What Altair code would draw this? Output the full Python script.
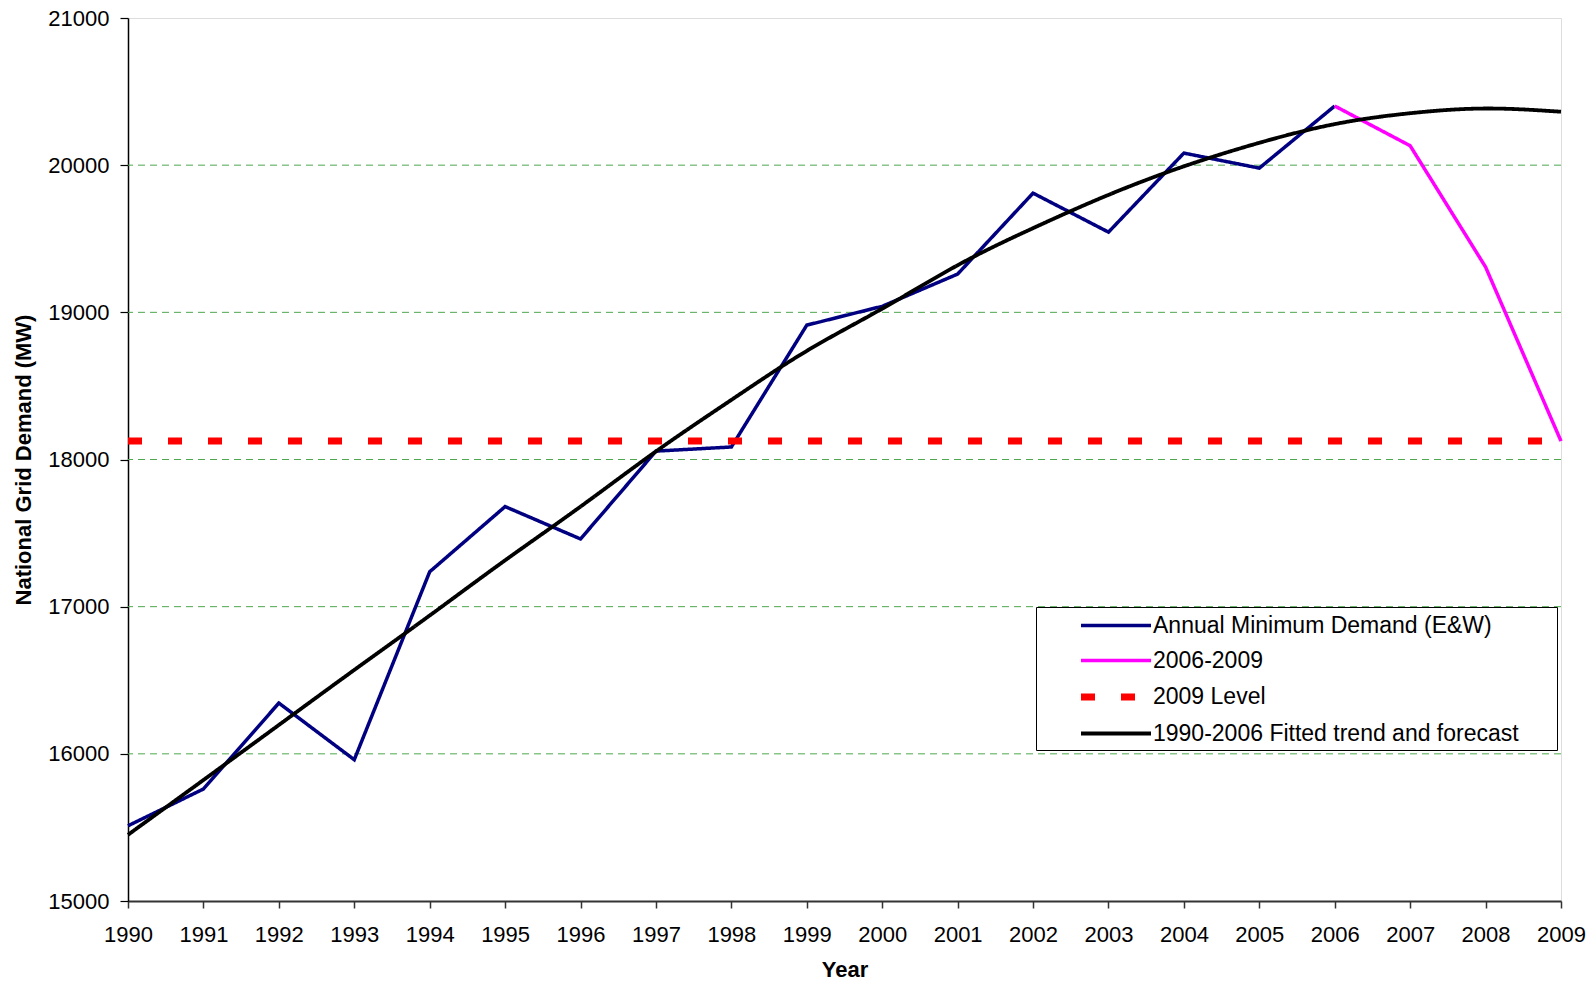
import altair as alt
import pandas as pd

# ---- data ----
S1 = "Annual Minimum Demand (E&W)"
S2 = "2006-2009"
S3 = "2009 Level"
S4 = "1990-2006 Fitted trend and forecast"

years_actual = list(range(1990, 2007))
demand_actual = [15511, 15761, 16345, 15960, 17237, 17680, 17460, 18057, 18085,
                 18913, 19041, 19260, 19810, 19545, 20082, 19980, 20402]

years_recent = [2006, 2007, 2008, 2009]
demand_recent = [20402, 20132, 19308, 18125]

level_years = [1990, 2009]
level_values = [18125, 18125]

trend_years = list(range(1990, 2010))
trend_values = [15450, 15822, 16196, 16570, 16940, 17315, 17680, 18055, 18405, 18738,
                19025, 19320, 19572, 19798, 19992, 20152, 20279, 20353, 20385, 20363]

grid_values = [16000, 17000, 18000, 19000, 20000]
x_ticks = list(range(1990, 2010))
y_ticks = [15000, 16000, 17000, 18000, 19000, 20000, 21000]

series_names = [S1, S2, S3, S4]
series_colors = ["#000080", "#FF00FF", "#FF0000", "#000000"]
series_dash = [[1, 0], [1, 0], [14, 26], [1, 0]]
series_width = [3.5, 3.5, 7, 3.8]

# ---- tables ----
def frame(name, xs, ys):
    return pd.DataFrame({"series": name, "year": xs, "value": ys})

df_actual = frame(S1, years_actual, demand_actual)
df_recent = frame(S2, years_recent, demand_recent)
df_level = frame(S3, level_years, level_values)
df_trend = frame(S4, trend_years, trend_values)
df_grid = pd.DataFrame({"v": grid_values})

FONT = "Liberation Sans"

x_scale = alt.Scale(domain=[1990, 2009], nice=False, zero=False)
y_scale = alt.Scale(domain=[15000, 21000], nice=False, zero=False)

x_axis = alt.Axis(
    values=x_ticks, format="d", grid=False,
    labelFont=FONT, labelFontSize=22, labelColor="#000000", labelPadding=16,
    labelFlush=False, labelOverlap=False,
    tickSize=7, tickColor="#333333", tickWidth=1.5,
    domainColor="#333333", domainWidth=2,
    title="Year", titleFont=FONT, titleFontSize=22, titleFontWeight="bold",
    titleColor="#000000", titleX=716.5, titleY=75, titleBaseline="alphabetic",
    titleAlign="center",
)
y_axis = alt.Axis(
    values=y_ticks, format="d", grid=False,
    labelFont=FONT, labelFontSize=22, labelColor="#000000", labelPadding=11,
    labelFlush=False, labelOverlap=False,
    tickSize=8, tickColor="#000000", tickWidth=1.2,
    domainColor="#000000", domainWidth=1.5,
    title="National Grid Demand (MW)", titleFont=FONT, titleFontSize=22,
    titleFontWeight="bold", titleColor="#000000",
    titleX=-105, titleY=441.5, titleAngle=270, titleAlign="center",
    titleBaseline="middle",
)

# legend: a 70px stroke symbol drawn by a custom path, rows ~36px apart
legend = alt.Legend(
    title=".", titleColor="#FFFFFF", titleFontSize=8, titleOrient="right",
    titlePadding=31,
    orient="none", legendX=908, legendY=589,
    fillColor="#FFFFFF", strokeColor="#000000", padding=4,
    symbolType="M-1.28,0H4.32", symbolSize=625, symbolOffset=41,
    labelFont=FONT, labelFontSize=23, labelColor="#000000", labelOffset=40,
    labelLimit=1000, rowPadding=8,
)

color_enc = alt.Color("series:N", scale=alt.Scale(domain=series_names, range=series_colors),
                      legend=legend, sort=series_names)
dash_enc = alt.StrokeDash("series:N", scale=alt.Scale(domain=series_names, range=series_dash),
                          sort=series_names)
width_enc = alt.StrokeWidth("series:N",
                            scale=alt.Scale(type="ordinal", domain=series_names, range=series_width),
                            sort=series_names)

grid = alt.Chart(df_grid).mark_rule(color="#4EA64E", strokeDash=[7, 5], strokeWidth=1).encode(
    y=alt.Y("v:Q", scale=y_scale, axis=y_axis)
)

def series_layer(df, interp="linear"):
    return alt.Chart(df).mark_line(interpolate=interp).encode(
        x=alt.X("year:Q", scale=x_scale, axis=x_axis),
        y=alt.Y("value:Q", scale=y_scale, axis=y_axis),
        color=color_enc,
        strokeDash=dash_enc,
        strokeWidth=width_enc,
    )

chart = alt.layer(
    grid,
    series_layer(df_actual),
    series_layer(df_recent),
    series_layer(df_level),
    series_layer(df_trend, "natural"),
).properties(
    width=1433, height=883,
    padding={"left": 120, "top": 10, "right": 26, "bottom": 84},
    autosize=alt.AutoSizeParams(type="none"),
).configure_view(
    stroke="#808080", strokeWidth=2
).configure(background="#FFFFFF")

chart.save("out.html", embed_options={"renderer": "svg", "actions": False})
